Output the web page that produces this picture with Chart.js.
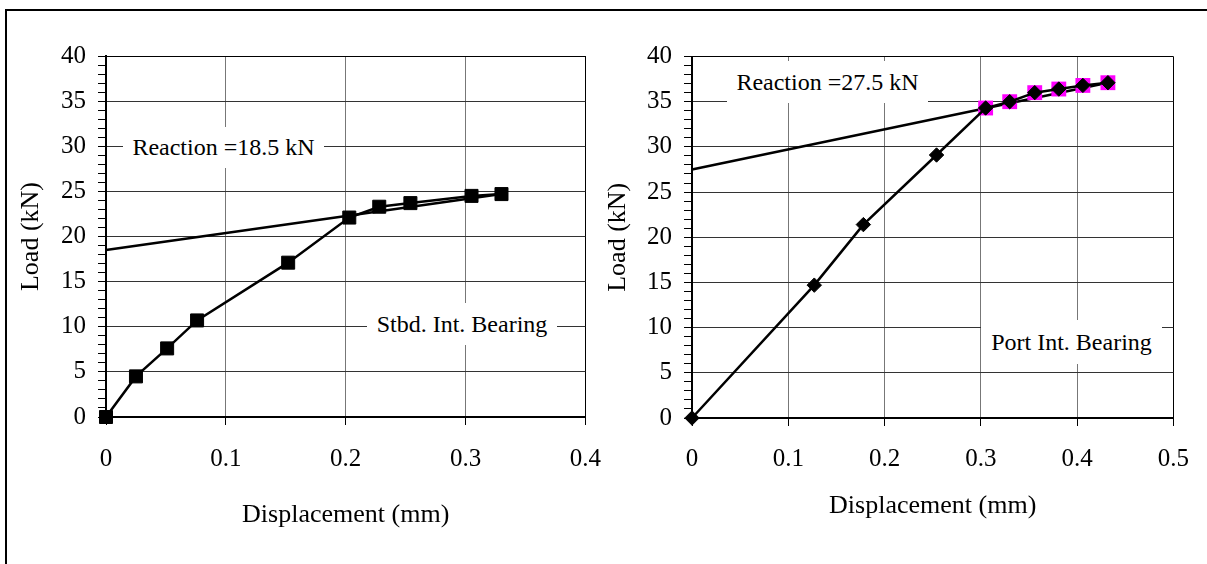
<!DOCTYPE html>
<html>
<head>
<meta charset="utf-8">
<script src="https://cdn.jsdelivr.net/npm/chart.js@4.4.1/dist/chart.umd.min.js"></script>
<style>
  html, body { margin: 0; padding: 0; background: #fff; }
  body { width: 1207px; height: 564px; position: relative; overflow: hidden; font-family: 'Liberation Serif', 'Times New Roman', serif; }
  .frame { position: absolute; left: 5px; top: 9px; right: -10px; bottom: -10px; border-left: 2px solid #000; border-top: 2px solid #000; }
  canvas { position: absolute; top: 0; }
  .note { position: absolute; background: #fff; font-size: 24px; color: #000; text-align: center; white-space: nowrap; z-index: 2; }
</style>
</head>
<body>
<div class="frame"></div>
<canvas id="stbdChart" width="620" height="564" style="left:0"></canvas>
<canvas id="portChart" width="607" height="564" style="left:600px"></canvas>

<div class="note" style="left:123px; top:127px; width:201px; height:41px; line-height:41px;">Reaction =18.5 kN</div>
<div class="note" style="left:367px; top:303px; width:190px; height:42px; line-height:42px;">Stbd. Int. Bearing</div>
<div class="note" style="left:727px; top:61px; width:201px; height:42px; line-height:42px;">Reaction =27.5 kN</div>
<div class="note" style="left:981px; top:320px; width:181px; height:44px; line-height:44px;">Port Int. Bearing</div>

<script>
const FONT = "'Liberation Serif', 'Times New Roman', serif";

// Stbd. Int. Bearing - displacement (mm) vs load (kN)
const stbdDisp = [0, 0.025, 0.051, 0.076, 0.152, 0.203, 0.228, 0.254, 0.305, 0.330];
const stbdLoad = [0, 4.5, 7.6, 10.7, 17.1, 22.1, 23.3, 23.7, 24.5, 24.7];
const stbdReactionDisp = [0, 0.330];
const stbdReactionLoad = [18.5, 24.7];

// Port Int. Bearing
const portDisp = [0, 0.127, 0.178, 0.254, 0.305, 0.330, 0.356, 0.381, 0.406, 0.432];
const portLoad = [0, 14.7, 21.4, 29.1, 34.3, 35.0, 36.0, 36.4, 36.8, 37.1];
const portFitDisp = [0.305, 0.330, 0.356, 0.381, 0.406, 0.432];
const portFitLoad = [34.3, 35.0, 36.0, 36.4, 36.8, 37.1];
const portReactionDisp = [0, 0.432];
const portReactionLoad = [27.5, 37.1];

// axes
const loadMin = 0, loadMax = 40, loadMajor = 5, loadMinor = 1;
const dispStep = 0.1;
const stbdDispMax = 0.4;
const portDispMax = 0.5;

const toPoints = (xs, ys) => xs.map((x, i) => ({ x: x, y: ys[i] }));

function buildChart(id, cfg) {
    const datasets = [{
        label: 'Measured',
        data: toPoints(cfg.x, cfg.y),
        showLine: true,
        borderColor: '#000',
        borderWidth: 2.5,
        pointStyle: cfg.marker,
        pointRadius: cfg.markerRadius,
        pointBackgroundColor: '#000',
        pointBorderColor: '#000',
        pointBorderWidth: 1,
        order: 0,
        clip: false
    }];

    // points used for the reaction fit (magenta squares behind the markers)
    if (cfg.fitX) {
        datasets.push({
            label: 'Fit points',
            data: toPoints(cfg.fitX, cfg.fitY),
            showLine: false,
            pointStyle: 'rect',
            pointRadius: 10.5,
            pointBackgroundColor: '#ff00ff',
            pointBorderWidth: 0,
            order: 1,
            clip: false
        });
    }

    datasets.push({
        label: 'Reaction',
        data: toPoints(cfg.rx, cfg.ry),
        showLine: true,
        borderColor: '#000',
        borderWidth: 2.5,
        pointRadius: 0,
        order: 2,
        clip: false
    });

    return new Chart(document.getElementById(id), {
        type: 'scatter',
        data: { datasets: datasets },
        options: {
            responsive: false,
            animation: false,
            events: [],
            layout: { padding: { top: cfg.top, right: cfg.right, left: 0, bottom: 0 } },
            plugins: { legend: { display: false }, tooltip: { enabled: false } },
            scales: {
                x: {
                    type: 'linear',
                    min: 0,
                    max: cfg.xMax,
                    ticks: { stepSize: dispStep, color: '#000', font: { family: FONT, size: 25 }, padding: cfg.xTickPad, maxRotation: 0 },
                    grid: {
                        color: (c) => (c.tick && Math.abs(c.tick.value - cfg.xMax) < 1e-9) ? '#000' : '#777',
                        lineWidth: 1,
                        tickLength: 8,
                        tickColor: '#000'
                    },
                    border: { color: '#000', width: 2 },
                    title: {
                        display: true,
                        text: 'Displacement (mm)',
                        color: '#000',
                        font: { family: FONT, size: 26 },
                        padding: { top: 0, bottom: cfg.xTitlePad }
                    },
                    afterFit: (scale) => { scale.height = cfg.xHeight; }
                },
                y: {
                    type: 'linear',
                    min: loadMin,
                    max: loadMax,
                    ticks: {
                        stepSize: loadMinor,
                        autoSkip: false,
                        color: '#000',
                        font: { family: FONT, size: 25 },
                        padding: 12,
                        callback: (v) => (v % loadMajor === 0 ? v : '')
                    },
                    grid: {
                        color: (c) => {
                            if (!c.tick || c.tick.value % loadMajor !== 0) return 'rgba(0,0,0,0)';
                            return c.tick.value === loadMax ? '#000' : '#333';
                        },
                        lineWidth: 1,
                        tickLength: 8,
                        tickColor: '#000'
                    },
                    border: { color: '#000', width: 2 },
                    title: {
                        display: true,
                        text: 'Load (kN)',
                        color: '#000',
                        font: { family: FONT, size: 26 },
                        padding: { top: cfg.yTitlePad, bottom: 0 }
                    },
                    afterFit: (scale) => { scale.width = cfg.yWidth; }
                }
            }
        }
    });
}

buildChart('stbdChart', {
    x: stbdDisp, y: stbdLoad,
    rx: stbdReactionDisp, ry: stbdReactionLoad,
    marker: 'rect', markerRadius: 9.2,
    xMax: stbdDispMax,
    top: 56, right: 28,
    yWidth: 106, xHeight: 147,
    xTickPad: 19, xTitlePad: 33, yTitlePad: 16
});

buildChart('portChart', {
    x: portDisp, y: portLoad,
    fitX: portFitDisp, fitY: portFitLoad,
    rx: portReactionDisp, ry: portReactionLoad,
    marker: 'rectRot', markerRadius: 7.2,
    xMax: portDispMax,
    top: 56.5, right: 29,
    yWidth: 92, xHeight: 146,
    xTickPad: 18, xTitlePad: 42, yTitlePad: 3
});
</script>
</body>
</html>
